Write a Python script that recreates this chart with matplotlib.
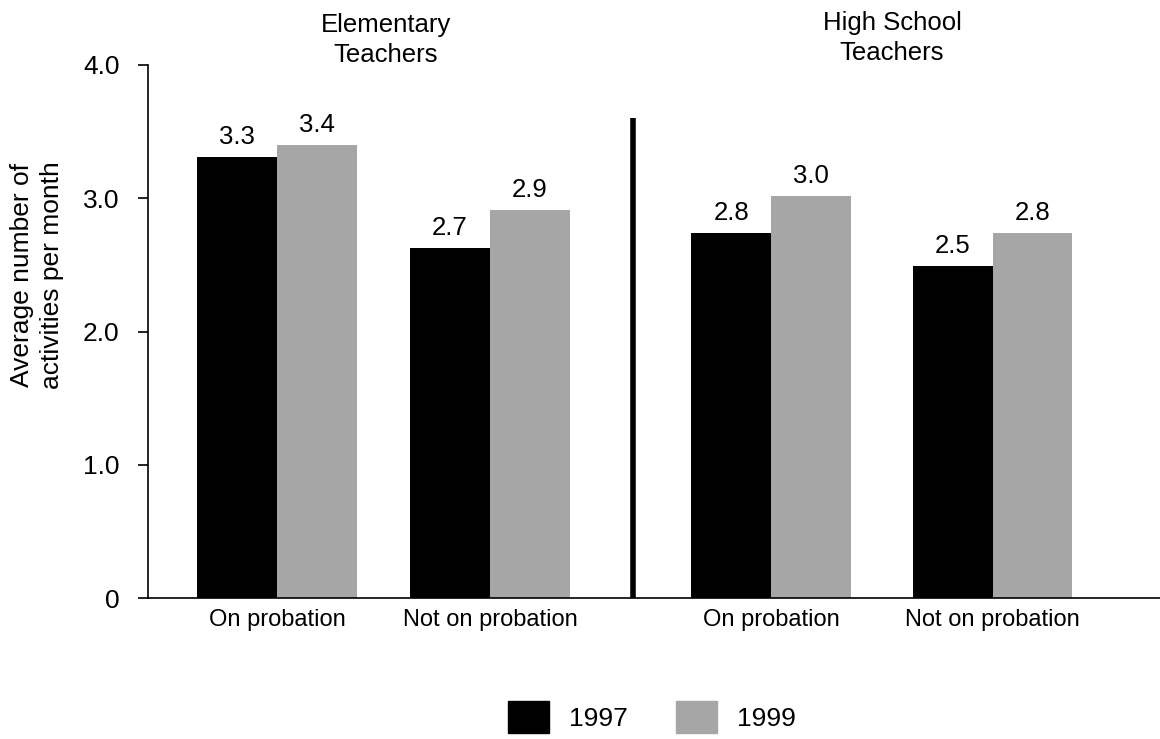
import matplotlib
matplotlib.use("Agg")
import matplotlib.pyplot as plt
from matplotlib.patches import Patch

plt.rcParams['font.family'] = ['Liberation Sans', 'DejaVu Sans']

# data
categories = ["On probation", "Not on probation", "On probation", "Not on probation"]
groups = ["Elementary\nTeachers", "High School\nTeachers"]
years = ["1997", "1999"]
values_1997 = [3.31, 2.63, 2.74, 2.49]
values_1999 = [3.40, 2.91, 3.02, 2.74]
labels_1997 = ["3.3", "2.7", "2.8", "2.5"]
labels_1999 = ["3.4", "2.9", "3.0", "2.8"]
yticks = [0, 1, 2, 3, 4]
ytick_labels = ["0", "1.0", "2.0", "3.0", "4.0"]

black = "#000000"
gray = "#a6a6a6"

fig = plt.figure(figsize=(11.6, 7.39), dpi=100)
ax = fig.add_axes([148 / 1160, 1 - 598 / 739, 1 - 148 / 1160, (598 - 65) / 739])

pos = [0, 1, 2.32, 3.36]
w = 0.375
x1 = [p - w / 2 for p in pos]
x2 = [p + w / 2 for p in pos]
ax.bar(x1, values_1997, width=w, color=black)
ax.bar(x2, values_1999, width=w, color=gray)

for x, v, lab in zip(x1, values_1997, labels_1997):
    ax.text(x, v + 0.06, lab, ha='center', va='bottom', fontsize=18.5)
for x, v, lab in zip(x2, values_1999, labels_1999):
    ax.text(x, v + 0.06, lab, ha='center', va='bottom', fontsize=18.5)

# divider between the two teacher groups
ax.plot([1.671, 1.671], [0, 3.6], color=black, linewidth=4, solid_capstyle='butt')

ax.set_xlim(-0.606, 4.146)
ax.set_ylim(0, 4)
ax.set_yticks(yticks)
ax.set_yticklabels(ytick_labels)
ax.set_xticks(pos)
ax.set_xticklabels(categories)
ax.tick_params(axis='x', length=0, pad=8, labelsize=17)
ax.tick_params(axis='y', direction='out', length=7.5, width=1.2, pad=13, labelsize=19)
ax.spines['top'].set_visible(False)
ax.spines['right'].set_visible(False)
ax.spines['left'].set_linewidth(1.2)
ax.spines['bottom'].set_linewidth(1.2)

ax.set_ylabel("Average number of\nactivities per month", fontsize=19, va='center',
              linespacing=1.3)
ax.yaxis.set_label_coords(-0.1097, 0.606)

fig.text(386 / 1160, 1 - 40 / 739, groups[0], ha='center', va='center', fontsize=18.5,
         linespacing=1.3)
fig.text(892 / 1160, 1 - 38 / 739, groups[1], ha='center', va='center', fontsize=18.5,
         linespacing=1.3)

handles = [Patch(color=black), Patch(color=gray)]
fig.legend(handles, years, loc='center', bbox_to_anchor=(652 / 1160, 1 - 717 / 739),
           ncol=2, frameon=False, fontsize=19, handlelength=1.55, handleheight=1.44,
           handletextpad=0.76, columnspacing=1.82)

fig.savefig("out.png", dpi=100)
